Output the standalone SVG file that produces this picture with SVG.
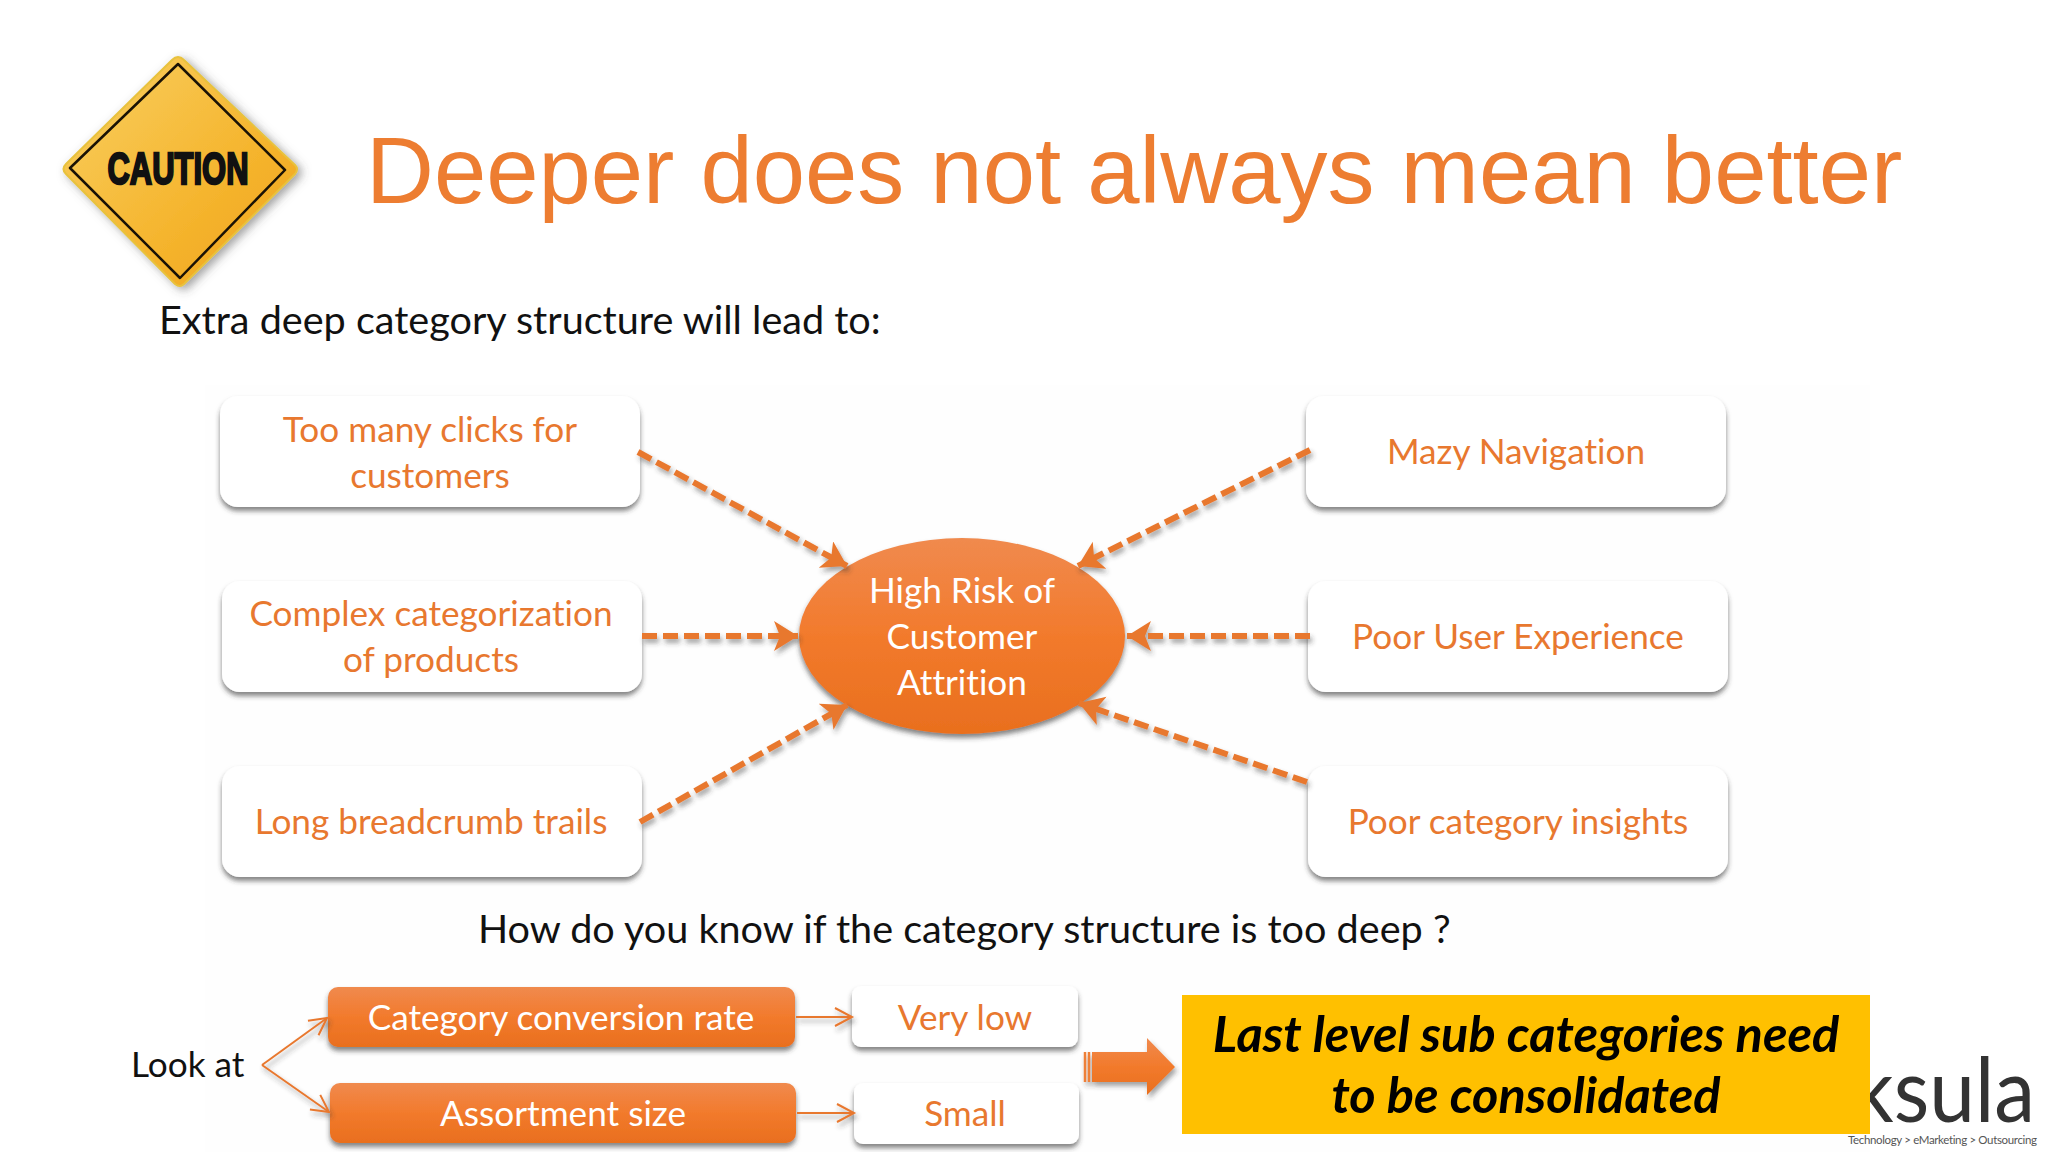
<svg xmlns="http://www.w3.org/2000/svg" width="2048" height="1152" viewBox="0 0 2048 1152">
<style>
text{font-variant-ligatures:none}
.body{font-family:"Lato","Open Sans",sans-serif;font-size:35.2px}
.big{font-size:39.6px}
.blk{fill:#111}
.org{fill:#E8782F;text-anchor:middle}
.wht{fill:#fff;text-anchor:middle}
.wbox{fill:#fff;filter:url(#sh)}
.obox{fill:url(#og);filter:url(#sh)}
.dash{fill:none;stroke:#E8782F;stroke-width:6;stroke-dasharray:15 6;marker-end:url(#ah)}
.thin{fill:none;stroke:#E8782F;stroke-width:2;marker-end:url(#oh)}
.yl{font-family:"Lato",sans-serif;font-weight:700;font-style:italic;font-size:50.5px;fill:#000;text-anchor:middle}
</style>
<defs>
<linearGradient id="og" x1="0" y1="0" x2="0" y2="1"><stop offset="0" stop-color="#F08A4E"/><stop offset=".5" stop-color="#F27A2C"/><stop offset="1" stop-color="#E96F1E"/></linearGradient>
<linearGradient id="sign" x1="0" y1="0" x2="1" y2="1"><stop offset="0" stop-color="#F9D063"/><stop offset=".6" stop-color="#F5B52E"/><stop offset="1" stop-color="#EFA21C"/></linearGradient>
<filter id="sh" x="-10%" y="-15%" width="120%" height="135%"><feDropShadow dx="0" dy="4" stdDeviation="2.5" flood-color="#333" flood-opacity=".6"/></filter>
<filter id="ls" filterUnits="userSpaceOnUse" x="0" y="0" width="2048" height="1152"><feDropShadow dx="2" dy="4" stdDeviation="2.5" flood-color="#333" flood-opacity=".45"/></filter>
<filter id="sg" x="-15%" y="-15%" width="130%" height="130%"><feDropShadow dx="4" dy="3" stdDeviation="5" flood-color="#444" flood-opacity=".5"/></filter>
<marker id="ah" markerUnits="userSpaceOnUse" markerWidth="30" markerHeight="34" refX="24" refY="15" orient="auto"><path d="M0 0L24 15L0 30L6 15Z" fill="#E8782F"/></marker>
<marker id="oh" markerUnits="userSpaceOnUse" markerWidth="22" markerHeight="24" refX="19" refY="11" orient="auto"><path d="M2 2L19 11L2 20" fill="none" stroke="#E8782F" stroke-width="2"/></marker>
</defs>
<rect width="2048" height="1152" fill="#fff"/>
<rect x="205" y="385" width="1665" height="767" fill="#fefefe"/>
<g id="logo">
<text x="1852" y="1122" font-family="Lato,sans-serif" font-weight="400" font-size="90" fill="#333" textLength="183" lengthAdjust="spacingAndGlyphs">ksula</text>
<text x="1848" y="1144" font-family="Lato,sans-serif" font-size="11.5" fill="#555" textLength="189">Technology  &gt;  eMarketing  &gt;  Outsourcing</text>
</g>
<g id="caution-sign">
<path d="M178 57Q181 57 184 60L295 165Q299 169 295 174L184 284Q180 288 175 284L66 174Q61 169 66 164L172 60Q175 57 178 57Z" fill="url(#sign)" stroke="#E8C23C" stroke-width="2" filter="url(#sg)"/>
<path d="M178 64L285 170L180 278L70 168Z" fill="none" stroke="#1a1205" stroke-width="2.5" stroke-linejoin="round"/>
<text x="178" y="184" font-family="Liberation Sans Narrow,Liberation Sans,sans-serif" font-weight="700" font-size="45" fill="#111" stroke="#111" stroke-width="2.4" text-anchor="middle" textLength="141" lengthAdjust="spacingAndGlyphs">CAUTION</text>
</g>
<text id="title" x="366" y="203" font-family="Liberation Sans,Arial,sans-serif" font-size="94" fill="#ED7D31">Deeper does not always mean better</text>
<text id="intro" class="body big blk" x="159" y="334">Extra deep category structure will lead to:</text>
<g id="n-clicks"><rect class="wbox" x="220" y="396" width="420" height="111" rx="18"/><text class="body org" x="430" y="442">Too many clicks for</text><text class="body org" x="430" y="488">customers</text></g>
<g id="n-complex"><rect class="wbox" x="222" y="581" width="420" height="111" rx="18"/><text class="body org" x="431" y="626">Complex categorization</text><text class="body org" x="431" y="672">of products</text></g>
<g id="n-long"><rect class="wbox" x="222" y="766" width="420" height="111" rx="18"/><text class="body org" x="431" y="834" font-size="36">Long breadcrumb trails</text></g>
<g id="n-mazy"><rect class="wbox" x="1306" y="396" width="420" height="111" rx="18"/><text class="body org" x="1516" y="464">Mazy Navigation</text></g>
<g id="n-ux"><rect class="wbox" x="1308" y="581" width="420" height="111" rx="18"/><text class="body org" x="1518" y="649">Poor User Experience</text></g>
<g id="n-insights"><rect class="wbox" x="1308" y="766" width="420" height="111" rx="18"/><text class="body org" x="1518" y="834">Poor category insights</text></g>
<g id="n-risk"><ellipse class="obox" cx="962" cy="636" rx="163" ry="98"/><text class="body wht" x="962" y="603">High Risk of</text><text class="body wht" x="962" y="649">Customer</text><text class="body wht" x="962" y="695">Attrition</text></g>
<text id="question" class="body big blk" x="478" y="943">How do you know if the category structure is too deep ?</text>
<text id="lookat" class="body blk" x="131" y="1077">Look at</text>
<g id="n-rate"><rect class="obox" x="328" y="987" width="467" height="60" rx="10"/><text class="body wht" x="561" y="1030">Category conversion rate</text></g>
<g id="n-size"><rect class="obox" x="330" y="1083" width="466" height="60" rx="10"/><text class="body wht" x="563" y="1126">Assortment size</text></g>
<g id="n-verylow"><rect class="wbox" x="852" y="986" width="226" height="61" rx="9"/><text class="body org" x="965" y="1030">Very low</text></g>
<g id="n-small"><rect class="wbox" x="854" y="1083" width="225" height="61" rx="9"/><text class="body org" x="965" y="1126">Small</text></g>
<g id="big-arrow" filter="url(#ls)"><path d="M1092 1052H1147V1038L1175 1067L1147 1095V1082H1092Z" fill="url(#og)"/><path d="M1085 1052V1082M1089 1052V1082" stroke="#EE8038" stroke-width="2.5"/></g>
<g id="n-consolidate"><rect x="1182" y="995" width="688" height="139" fill="#FFC000"/>
<text class="yl" x="1526" y="1052">Last level sub categories need</text>
<text class="yl" x="1526" y="1113">to be consolidated</text></g>
<g id="connectors" filter="url(#ls)">
<path class="dash" d="M638 452L847 566"/>
<path class="dash" d="M1310 450L1078 566"/>
<path class="dash" d="M642 636L798 636"/>
<path class="dash" d="M1310 636L1127 636"/>
<path class="dash" d="M640 822L847 705"/>
<path class="dash" d="M1307 782L1079 703"/>
<path class="thin" d="M262 1065L327 1018"/>
<path class="thin" d="M262 1065L329 1112"/>
<path class="thin" d="M796 1017L852 1017"/>
<path class="thin" d="M797 1113L854 1113"/>
</g>
</svg>
